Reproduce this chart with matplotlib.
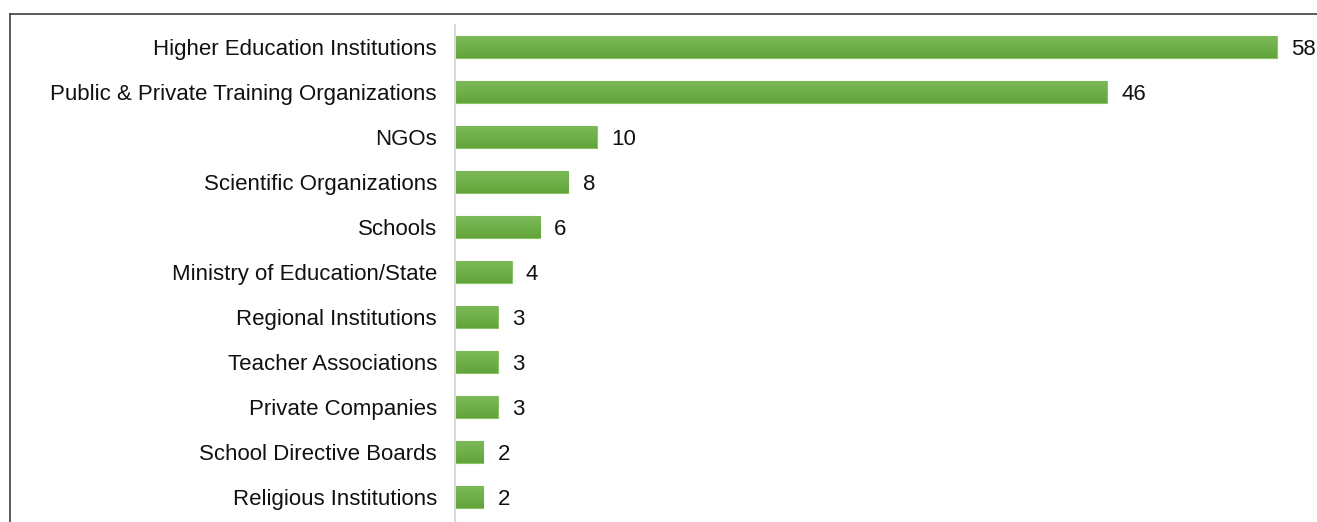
import numpy as np
from matplotlib import pyplot as plt
from matplotlib.lines import Line2D

categories = [
    "Higher Education Institutions",
    "Public & Private Training Organizations",
    "NGOs",
    "Scientific Organizations",
    "Schools",
    "Ministry of Education/State",
    "Regional Institutions",
    "Teacher Associations",
    "Private Companies",
    "School Directive Boards",
    "Religious Institutions",
]
values = [58, 46, 10, 8, 6, 4, 3, 3, 3, 2, 2]

plt.rcParams['font.family'] = ['Liberation Sans', 'DejaVu Sans']

W, H = 1317, 522
fig = plt.figure(figsize=(W / 100, H / 100), dpi=100)
ax = fig.add_axes([455 / W, 0, 1 - 455 / W, (H - 25) / H])

y = np.arange(len(categories))
bars = ax.barh(y, values, height=0.49, color='#6aac44', edgecolor='#8cc46c', linewidth=0.8)

# vertical gradient on each bar
grad = np.linspace(0, 1, 64).reshape(-1, 1)
cmap = plt.matplotlib.colors.LinearSegmentedColormap.from_list('g', ['#7dbb5a', '#62a43a'])
for b in bars:
    x0, y0, w, h = b.get_x(), b.get_y(), b.get_width(), b.get_height()
    im = ax.imshow(grad, cmap=cmap, aspect='auto', extent=(x0, x0 + w, y0 + h, y0),
                   zorder=b.get_zorder() + 0.1)
    im.set_clip_path(b)

for yi, v in zip(y, values):
    ax.text(v + 1.0, yi, str(v), va='center_baseline', ha='left', fontsize=16, color='#111111')

ax.set_xlim(0, 58 * (W - 455) / 822)
ax.set_ylim(len(categories) - 0.44, -0.49)
ax.set_yticks(y)
ax.set_yticklabels(categories, fontsize=16, color='#111111')
for lbl in ax.get_yticklabels():
    lbl.set_va('center_baseline')
ax.tick_params(axis='y', length=0, pad=13)
ax.set_xticks([])
for s in ['top', 'right', 'bottom']:
    ax.spines[s].set_visible(False)
ax.spines['left'].set_color('#d9d9d9')
ax.spines['left'].set_linewidth(1.5)

# outer frame (left and top edges visible)
fig.add_artist(Line2D([10 / W, 10 / W], [0, 1 - 14 / H], color='#404040', linewidth=1.2,
                      transform=fig.transFigure))
fig.add_artist(Line2D([10 / W, 1], [1 - 14 / H, 1 - 14 / H], color='#404040', linewidth=1.2,
                      transform=fig.transFigure))

fig.savefig('out.png', dpi=100)
